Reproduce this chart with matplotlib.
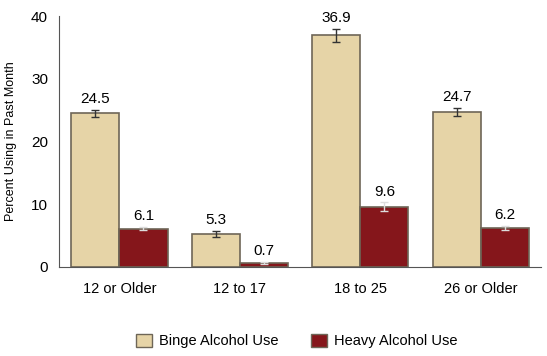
import matplotlib
matplotlib.use("Agg")
import matplotlib.pyplot as plt
import numpy as np
from matplotlib.patches import Patch

plt.rcParams['font.family'] = ['Liberation Sans', 'DejaVu Sans']

# data #
groups = ["12 or Older", "12 to 17", "18 to 25", "26 or Older"]
binge = [24.5, 5.3, 36.9, 24.7]
heavy = [6.1, 0.7, 9.6, 6.2]
binge_err = [0.55, 0.5, 1.1, 0.7]
heavy_err = [0.25, 0.15, 0.7, 0.3]
yticks = [0, 10, 20, 30, 40]

binge_col = "#e6d4a7"
heavy_col = "#85161b"
edge_col = "#6e6657"

fig = plt.figure(figsize=(5.47, 3.56), dpi=100)
ax = fig.add_axes([0.108, 0.25, 0.881, 0.705])

x = np.arange(len(groups))
w = 0.4
ax.bar(x - w/2, binge, w, color=binge_col, edgecolor=edge_col, linewidth=1.2)
ax.bar(x + w/2, heavy, w, color=heavy_col, edgecolor=edge_col, linewidth=1.2)
ax.errorbar(x - w/2, binge, yerr=binge_err, fmt="none", ecolor="#333333",
            elinewidth=1, capsize=3, capthick=1)
ax.errorbar(x + w/2, heavy, yerr=heavy_err, fmt="none", ecolor="#dddddd",
            elinewidth=1, capsize=3, capthick=1)

for xi, v, e in zip(x - w/2, binge, binge_err):
    ax.text(xi, v + e + 0.6, f"{v:.1f}", ha="center", va="bottom", fontsize=11)
for xi, v, e in zip(x + w/2, heavy, heavy_err):
    ax.text(xi, v + e + 0.6, f"{v:.1f}", ha="center", va="bottom", fontsize=11)

ax.set_xlim(-0.5, len(groups) - 0.5)
ax.set_ylim(0, 40)
ax.set_yticks(yticks)
ax.set_xticks(x)
ax.set_xticklabels(groups, fontsize=10.5)
ax.tick_params(axis="y", length=0, labelsize=11, pad=8)
ax.tick_params(axis="x", length=0, pad=11)
ax.set_ylabel("Percent Using in Past Month", fontsize=9, labelpad=10)

for s in ["top", "right"]:
    ax.spines[s].set_visible(False)
ax.spines["left"].set_color("#555555")
ax.spines["bottom"].set_color("#555555")

handles = [Patch(facecolor=binge_col, edgecolor=edge_col, label="Binge Alcohol Use"),
           Patch(facecolor=heavy_col, edgecolor=edge_col, label="Heavy Alcohol Use")]
fig.legend(handles=handles, loc="center", bbox_to_anchor=(0.543, 0.042), ncol=2,
           frameon=False, fontsize=10.5, handlelength=1.1, handleheight=1.05,
           columnspacing=2.2, handletextpad=0.5)

fig.savefig("out.png", dpi=100)
